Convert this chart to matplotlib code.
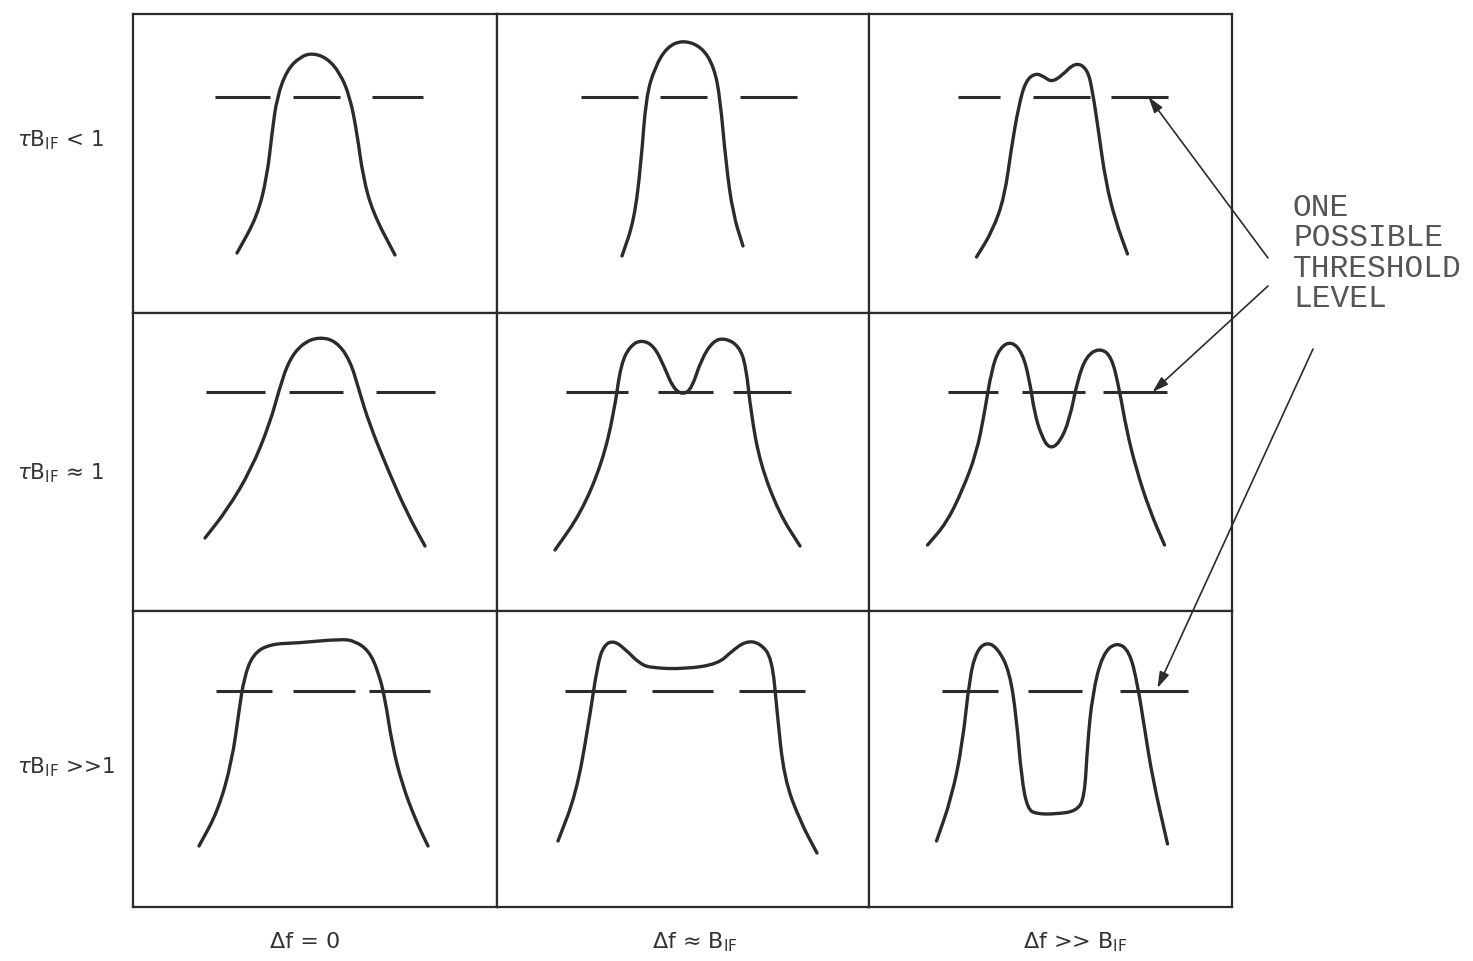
import matplotlib.pyplot as plt
from matplotlib.patches import ConnectionPatch, PathPatch
from matplotlib.path import Path

# grid layout of the original drawing (pixels)
col_edges = [133, 497, 869, 1232]
row_edges = [14, 313, 611, 907]
W, H = 1473, 961

row_labels = [r"$\tau$B$_{\rm IF}$ < 1", r"$\tau$B$_{\rm IF}$ ≈ 1",
              r"$\tau$B$_{\rm IF}$ >>1"]
col_labels = [r"Δf = 0", r"Δf ≈ B$_{\rm IF}$", r"Δf >> B$_{\rm IF}$"]

# threshold level for each row (height above cell bottom)
threshold = [216, 219, 216]

# pulse shapes, x = offset from cell centre, y = height above cell bottom
pulse_x = [
    [[-78, -58, -48, -43, -38, -28, -15, -3, 12, 25, 35, 42, 48, 58, 80],
     [-61, -49, -42, -37, -28, -16, 0, 19, 31, 37, 43, 50, 60],
     [-74, -58, -46, -39, -32, -25, -15, -6, 1, 11, 25, 37, 42, 48, 55, 65, 77]],
    [[-110, -88, -64, -45, -36, -26, -12, 4, 21, 35, 44, 54, 73, 92, 110],
     [-128, -102, -81, -69, -62, -52, -41, -29, -19, -10, 0, 9, 18, 30, 42,
      56, 63, 68, 77, 96, 117],
     [-123, -104, -88, -74, -66, -59, -51, -39, -28, -21, -16, -9, -1, 9, 19,
      27, 36, 49, 61, 69, 76, 86, 99, 114]],
    [[-116, -97, -83, -76, -71, -62, -45, -17, 26, 40, 54, 63, 70, 77, 87,
      101, 113],
     [-125, -107, -95, -85, -78, -69, -59, -43, -31, 2, 35, 49, 63, 77, 89,
      94, 101, 117, 134],
     [-114, -99, -88, -81, -74, -64, -53, -41, -34, -29, -23, -14, 6, 26, 34,
      37, 42, 52, 66, 79, 87, 94, 102, 117]],
]
pulse_y = [
    [[60, 96, 136, 180, 216, 243, 256, 260, 255, 240, 216, 180, 136, 100, 58],
     [57, 92, 149, 216, 246, 266, 273, 266, 246, 216, 149, 99, 67],
     [56, 82, 116, 166, 206, 232, 240, 236, 231, 237, 251, 244, 222, 182, 132,
      92, 59]],
    [[73, 101, 141, 188, 221, 251, 268, 274, 270, 251, 221, 188, 141, 98, 65],
     [61, 98, 148, 198, 248, 266, 271, 265, 245, 223, 216, 223, 251, 270, 273,
      265, 245, 198, 148, 98, 65],
     [66, 88, 121, 158, 198, 241, 263, 270, 258, 231, 198, 175, 162, 168, 191,
      231, 255, 263, 255, 221, 181, 141, 101, 66]],
    [[61, 96, 146, 196, 229, 253, 263, 264, 268, 266, 256, 236, 209, 163, 123,
      86, 61],
     [66, 113, 179, 246, 263, 266, 259, 243, 239, 238, 243, 256, 266, 264,
      249, 196, 129, 86, 54],
     [66, 109, 163, 229, 256, 265, 259, 236, 189, 129, 98, 93, 93, 96, 109,
      163, 213, 253, 265, 256, 223, 179, 129, 63]],
]

# dashed threshold segments (start, end) per cell
dashes = [
    [[(-100, -45), (-22, 25), (57, 108)],
     [(-102, -45), (-23, 24), (57, 114)],
     [(-93, -51), (-18, 39), (60, 117)]],
    [[(-109, -50), (-26, 28), (61, 120)],
     [(-117, -55), (-25, 30), (50, 108)],
     [(-103, -53), (-29, 34), (52, 116)]],
    [[(-99, -43), (-22, 40), (54, 115)],
     [(-118, -57), (-31, 30), (56, 122)],
     [(-109, -53), (-23, 31), (69, 137)]],
]

# arrow tips on the right-hand threshold lines, and their tails near the note
arrow_tips = [(98, 216), (102, 219), (107, 219)]
arrow_tails = [(1268, 258), (1268, 286), (1313, 349)]

ink = "#2b2b2b"


def smooth_path(xs, ys):
    """Quadratic bezier path using the read points as control points."""
    verts = [(xs[0], ys[0])]
    codes = [Path.MOVETO]
    mids = [((xs[i] + xs[i + 1]) / 2, (ys[i] + ys[i + 1]) / 2)
            for i in range(len(xs) - 1)]
    verts.append(mids[0])
    codes.append(Path.LINETO)
    for i in range(1, len(xs) - 1):
        verts += [(xs[i], ys[i]), mids[i]]
        codes += [Path.CURVE3, Path.CURVE3]
    verts.append((xs[-1], ys[-1]))
    codes.append(Path.LINETO)
    return Path(verts, codes)


fig = plt.figure(figsize=(W / 100, H / 100), dpi=100)
fig.patch.set_facecolor("white")

cells = []
for r in range(3):
    row = []
    for c in range(3):
        x0, x1 = col_edges[c], col_edges[c + 1]
        y0, y1 = row_edges[r], row_edges[r + 1]
        ax = fig.add_axes([x0 / W, 1 - y1 / H, (x1 - x0) / W, (y1 - y0) / H])
        half = (x1 - x0) / 2
        ax.set_xlim(-half, half)
        ax.set_ylim(0, y1 - y0)
        ax.set_xticks([])
        ax.set_yticks([])
        for s in ax.spines.values():
            s.set_linewidth(1.6)
            s.set_color(ink)
        ax.add_patch(PathPatch(smooth_path(pulse_x[r][c], pulse_y[r][c]),
                               facecolor="none", edgecolor=ink, lw=2.4,
                               joinstyle="round", capstyle="round"))
        for a, b in dashes[r][c]:
            ax.plot([a, b], [threshold[r], threshold[r]], color=ink, lw=2.2,
                    solid_capstyle="butt")
        row.append(ax)
    cells.append(row)

# row labels
for r, lab in enumerate(row_labels):
    yc = [140, 473, 767][r]
    fig.text(17 / W, 1 - yc / H, lab, fontsize=15.5, color="#333333",
             ha="left", va="center")

# column labels
for c, lab in enumerate(col_labels):
    xc = [305, 695, 1075][c]
    fig.text(xc / W, 1 - 942 / H, lab, fontsize=16, color="#333333",
             ha="center", va="center")

fig.text(1293 / W, 1 - 193 / H, "ONE\nPOSSIBLE\nTHRESHOLD\nLEVEL",
         fontsize=22.5, family="Liberation Mono", color="#555555",
         ha="left", va="top", linespacing=1.02)

for r in range(3):
    tail = (arrow_tails[r][0], H - arrow_tails[r][1])
    con = ConnectionPatch(xyA=tail, coordsA="figure pixels",
                          xyB=arrow_tips[r], coordsB=cells[r][2].transData,
                          arrowstyle="-|>,head_length=0.8,head_width=0.25",
                          color=ink, lw=1.2, mutation_scale=12)
    fig.add_artist(con)

fig.savefig("out.png", dpi=100, facecolor="white")
